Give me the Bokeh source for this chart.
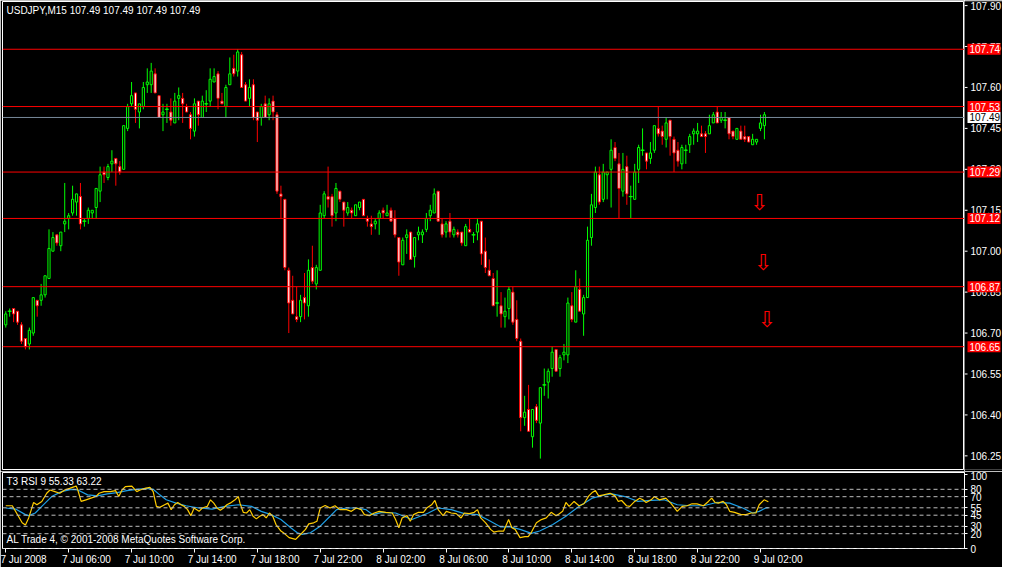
from bokeh.plotting import figure
from bokeh.layouts import column, row
from bokeh.models import (ColumnDataSource, FixedTicker, Label, Span, LinearAxis, Range1d)
from bokeh.core.properties import value
from bokeh.embed import file_html
from bokeh.resources import INLINE

# ---------------- data ----------------
chart_title = "USDJPY,M15  107.49 107.49 107.49 107.49"
indicator_title = "T3 RSI 9 55.33 63.22"
copyright_text = "AL Trade 4, \u00a9 2001-2008 MetaQuotes Software Corp."

opens = [106.73, 106.78, 106.79, 106.78, 106.73, 106.68, 106.66, 106.70, 106.82, 106.82,
         106.84, 106.90, 107.00, 107.06, 107.02, 107.10, 107.12, 107.14, 107.18, 107.20,
         107.11, 107.12, 107.14, 107.16, 107.22, 107.29, 107.27, 107.32, 107.34, 107.31,
         107.30, 107.45, 107.54, 107.58, 107.51, 107.53, 107.61, 107.61, 107.65, 107.57,
         107.50, 107.52, 107.51, 107.47, 107.56, 107.56, 107.53, 107.50, 107.44, 107.55,
         107.49, 107.54, 107.55, 107.62, 107.65, 107.55, 107.53, 107.61, 107.67, 107.66,
         107.72, 107.61, 107.56, 107.61, 107.51, 107.49, 107.54, 107.50, 107.55, 107.50,
         107.21, 107.19, 106.93, 106.82, 106.76, 106.76, 106.83, 106.80, 106.94, 106.88,
         106.93, 107.13, 107.20, 107.20, 107.14, 107.22, 107.18, 107.14, 107.15, 107.13,
         107.16, 107.19, 107.12, 107.10, 107.10, 107.12, 107.15, 107.13, 107.15, 107.12,
         107.05, 106.95, 107.05, 107.07, 106.98, 107.06, 107.06, 107.08, 107.13, 107.14,
         107.22, 107.10, 107.07, 107.11, 107.06, 107.07, 107.07, 107.02, 107.08, 107.06,
         107.07, 107.11, 107.00, 106.93, 106.90, 106.81, 106.80, 106.76, 106.79, 106.85,
         106.75, 106.67, 106.39, 106.42, 106.32, 106.43, 106.37, 106.51, 106.52, 106.57,
         106.64, 106.57, 106.62, 106.62, 106.80, 106.74, 106.86, 106.77, 106.83, 107.05,
         107.16, 107.28, 107.19, 107.28, 107.30, 107.38, 107.32, 107.22, 107.31, 107.20,
         107.19, 107.30, 107.37, 107.36, 107.34, 107.37, 107.45, 107.44, 107.41, 107.48,
         107.41, 107.37, 107.32, 107.37, 107.39, 107.43, 107.43, 107.43, 107.43, 107.43,
         107.47, 107.51, 107.48, 107.48, 107.49, 107.44, 107.41, 107.44, 107.42, 107.42,
         107.39, 107.40, 107.45, 107.46, 107.49]
highs = [106.78, 106.79, 106.79, 106.78, 106.74, 106.68, 106.72, 106.83, 106.82, 106.88,
         106.91, 107.08, 107.07, 107.06, 107.07, 107.25, 107.14, 107.24, 107.21, 107.25,
         107.12, 107.16, 107.15, 107.23, 107.31, 107.31, 107.32, 107.37, 107.34, 107.33,
         107.46, 107.54, 107.62, 107.58, 107.54, 107.62, 107.67, 107.69, 107.67, 107.57,
         107.54, 107.54, 107.56, 107.58, 107.60, 107.58, 107.54, 107.51, 107.56, 107.55,
         107.57, 107.59, 107.67, 107.67, 107.66, 107.58, 107.61, 107.71, 107.72, 107.74,
         107.73, 107.62, 107.63, 107.63, 107.51, 107.54, 107.57, 107.56, 107.57, 107.51,
         107.24, 107.19, 106.94, 106.91, 106.87, 106.84, 106.92, 106.97, 107.02, 106.95,
         107.17, 107.22, 107.31, 107.21, 107.25, 107.22, 107.18, 107.18, 107.16, 107.17,
         107.18, 107.19, 107.13, 107.13, 107.12, 107.15, 107.16, 107.17, 107.16, 107.15,
         107.05, 107.05, 107.08, 107.07, 107.05, 107.09, 107.08, 107.14, 107.17, 107.23,
         107.22, 107.12, 107.11, 107.14, 107.09, 107.08, 107.07, 107.10, 107.12, 107.07,
         107.12, 107.11, 107.05, 106.97, 106.92, 106.93, 106.85, 106.83, 106.87, 106.87,
         106.82, 106.68, 106.47, 106.51, 106.42, 106.44, 106.50, 106.57, 106.57, 106.65,
         106.64, 106.62, 106.66, 106.83, 106.85, 106.93, 106.90, 106.84, 107.09, 107.21,
         107.31, 107.31, 107.32, 107.29, 107.41, 107.40, 107.36, 107.36, 107.35, 107.24,
         107.32, 107.39, 107.45, 107.36, 107.40, 107.46, 107.53, 107.46, 107.49, 107.48,
         107.42, 107.40, 107.39, 107.39, 107.43, 107.45, 107.47, 107.46, 107.44, 107.50,
         107.51, 107.53, 107.51, 107.51, 107.49, 107.44, 107.45, 107.46, 107.46, 107.42,
         107.43, 107.41, 107.50, 107.51, 107.49]
lows = [106.72, 106.76, 106.74, 106.73, 106.66, 106.64, 106.64, 106.69, 106.76, 106.80,
        106.83, 106.90, 107.00, 107.02, 107.00, 107.07, 107.08, 107.13, 107.13, 107.08,
        107.09, 107.10, 107.12, 107.12, 107.18, 107.25, 107.26, 107.29, 107.24, 107.28,
        107.30, 107.44, 107.53, 107.47, 107.45, 107.52, 107.58, 107.58, 107.58, 107.49,
        107.44, 107.47, 107.46, 107.47, 107.48, 107.47, 107.51, 107.41, 107.42, 107.46,
        107.49, 107.51, 107.53, 107.62, 107.52, 107.54, 107.49, 107.61, 107.64, 107.64,
        107.60, 107.55, 107.53, 107.48, 107.40, 107.46, 107.49, 107.48, 107.48, 107.21,
        107.12, 106.93, 106.70, 106.77, 106.74, 106.74, 106.75, 106.76, 106.88, 106.86,
        106.93, 107.12, 107.16, 107.09, 107.11, 107.18, 107.09, 107.13, 107.12, 107.13,
        107.15, 107.13, 107.09, 107.06, 107.08, 107.06, 107.12, 107.13, 107.11, 107.05,
        106.91, 106.95, 106.99, 106.97, 106.94, 107.04, 107.03, 107.07, 107.11, 107.14,
        107.11, 107.05, 107.05, 107.05, 107.05, 107.05, 107.02, 107.02, 107.07, 107.03,
        107.04, 106.95, 106.92, 106.91, 106.80, 106.76, 106.72, 106.72, 106.75, 106.73,
        106.67, 106.34, 106.36, 106.34, 106.28, 106.37, 106.24, 106.47, 106.46, 106.54,
        106.56, 106.54, 106.60, 106.59, 106.74, 106.74, 106.78, 106.69, 106.83, 107.02,
        107.14, 107.17, 107.18, 107.19, 107.16, 107.33, 107.12, 107.20, 107.17, 107.12,
        107.19, 107.25, 107.35, 107.30, 107.32, 107.36, 107.42, 107.39, 107.38, 107.35,
        107.29, 107.31, 107.30, 107.32, 107.36, 107.39, 107.40, 107.42, 107.36, 107.43,
        107.47, 107.47, 107.47, 107.45, 107.41, 107.41, 107.41, 107.41, 107.40, 107.40,
        107.39, 107.39, 107.44, 107.41, 107.49]
closes = [106.77, 106.78, 106.77, 106.74, 106.67, 106.65, 106.71, 106.83, 106.80, 106.84,
          106.91, 107.01, 107.05, 107.03, 107.07, 107.11, 107.13, 107.19, 107.21, 107.10,
          107.11, 107.15, 107.15, 107.23, 107.28, 107.28, 107.31, 107.33, 107.32, 107.29,
          107.46, 107.53, 107.57, 107.52, 107.54, 107.60, 107.62, 107.66, 107.58, 107.49,
          107.51, 107.52, 107.48, 107.55, 107.57, 107.54, 107.51, 107.45, 107.54, 107.50,
          107.55, 107.54, 107.63, 107.64, 107.56, 107.54, 107.60, 107.65, 107.65, 107.73,
          107.60, 107.55, 107.60, 107.49, 107.48, 107.53, 107.49, 107.54, 107.51, 107.22,
          107.20, 106.94, 106.81, 106.77, 106.75, 106.82, 106.81, 106.93, 106.89, 106.94,
          107.14, 107.21, 107.19, 107.13, 107.23, 107.19, 107.15, 107.16, 107.14, 107.17,
          107.18, 107.13, 107.11, 107.09, 107.11, 107.14, 107.14, 107.14, 107.11, 107.06,
          106.96, 107.04, 107.06, 106.97, 107.05, 107.07, 107.07, 107.12, 107.15, 107.21,
          107.11, 107.06, 107.10, 107.07, 107.08, 107.06, 107.03, 107.09, 107.07, 107.06,
          107.10, 106.99, 106.94, 106.91, 106.80, 106.81, 106.77, 106.78, 106.86, 106.74,
          106.68, 106.39, 106.41, 106.34, 106.42, 106.38, 106.50, 106.51, 106.56, 106.63,
          106.56, 106.61, 106.63, 106.81, 106.75, 106.87, 106.78, 106.83, 107.04, 107.17,
          107.29, 107.18, 107.29, 107.29, 107.37, 107.34, 107.23, 107.30, 107.21, 107.20,
          107.29, 107.38, 107.37, 107.33, 107.36, 107.46, 107.43, 107.42, 107.47, 107.42,
          107.36, 107.33, 107.38, 107.37, 107.42, 107.44, 107.44, 107.42, 107.42, 107.46,
          107.50, 107.47, 107.49, 107.48, 107.43, 107.42, 107.45, 107.41, 107.41, 107.40,
          107.41, 107.41, 107.47, 107.50, 107.49]

time_label_bars = [0, 16, 32, 48, 64, 80, 96, 112, 128, 144, 160, 176, 192]
time_labels = ["7 Jul 2008", "7 Jul 06:00", "7 Jul 10:00", "7 Jul 14:00", "7 Jul 18:00",
               "7 Jul 22:00", "8 Jul 02:00", "8 Jul 06:00", "8 Jul 10:00", "8 Jul 14:00",
               "8 Jul 18:00", "8 Jul 22:00", "9 Jul 02:00"]

price_ticks = [106.25, 106.40, 106.55, 106.70, 106.85, 107.00, 107.15, 107.30,
               107.45, 107.60, 107.75, 107.90]
level_prices = [107.74, 107.53, 107.29, 107.12, 106.87, 106.65]
bid_price = 107.49

arrow_bars = [191.7, 192.6, 193.6]
arrow_prices = [107.18, 106.96, 106.75]

rsi_ticks = [0, 20, 30, 45, 55, 70, 80, 100]
rsi_levels = [80, 70, 55, 45, 30, 20, 0]

rsi_x = [0, 1.67, 4.17, 5, 5.83, 7.08, 7.92, 9.17, 10.42, 11.25, 12.5, 13.75, 15, 16.25,
         17.5, 17.92, 18.33, 19.17, 20.42, 21.67, 22.92, 23.75, 25, 26.67, 27.92, 28.75,
         29.58, 30.42, 32.08, 33.33, 34.17, 35.42, 36.67, 37.5, 38.33, 39.17, 40.42, 41.25,
         42.08, 42.92, 43.75, 44.58, 45.42, 46.25, 47.08, 47.92, 49.17, 50, 51.25, 52.08,
         52.92, 53.75, 54.58, 55.42, 56.25, 57.08, 58.33, 59.17, 59.58, 60.42, 61.25, 62.08,
         62.92, 63.75, 64.58, 65.42, 66.25, 67.08, 67.92, 68.75, 70, 70.83, 72.08, 73.75,
         74.58, 75.42, 76.25, 77.08, 78.33, 79.17, 80, 81.25, 82.5, 83.75, 85, 86.67, 87.92,
         89.17, 90.42, 91.25, 92.5, 93.75, 95, 96.67, 98.33, 99.17, 100, 100.83, 102.08,
         102.92, 103.75, 105, 106.25, 107.08, 108.33, 109.17, 110, 111.25, 112.08, 113.33,
         114.58, 115.83, 116.67, 117.92, 119.17, 120, 120.83, 122.08, 123.33, 124.17, 125.42,
         126.67, 127.92, 128.75, 129.58, 130.83, 132.08, 132.92, 133.75, 135, 136.25, 137.5,
         138.75, 140, 140.83, 141.67, 142.5, 143.33, 144.58, 145.83, 147.08, 148.33, 149.17,
         150, 150.83, 152.08, 153.75, 155, 155.83, 156.67, 157.92, 158.75, 160, 161.25,
         162.08, 162.92, 164.17, 165, 166.25, 167.92, 169.17, 170.83, 172.08, 173.33, 174.58,
         175.83, 177.5, 178.75, 179.58, 180.42, 181.25, 182.5, 183.33, 184.17, 185.42,
         187.08, 188.33, 189.58, 190.83, 191.67, 192.92, 194]
rsi_vals = [57.8, 57.8, 34.7, 31.6, 41.3, 62.2, 59.1, 63.6, 74.7, 79.1, 76.9, 74.7, 79.1, 81.3,
            83.6, 84.4, 79.1, 63.6, 65.8, 68.0, 70.2, 74.7, 76.9, 76.9, 78.2, 70.2,
            79.1, 83.6, 84.4, 76.9, 79.1, 81.3, 82.7, 76.9, 56.9, 55.6, 59.1, 61.3,
            52.5, 59.1, 62.2, 59.1, 56.9, 52.5, 44.4, 54.7, 50.2, 54.7, 56.9, 65.8,
            61.3, 54.7, 51.6, 54.7, 59.1, 61.3, 65.8, 70.2, 61.3, 48.9, 48.0, 52.5,
            43.6, 40.0, 43.6, 45.8, 41.3, 48.0, 43.6, 32.4, 23.6, 20.5, 14.7, 12.4,
            16.9, 21.3, 25.8, 33.3, 34.7, 36.9, 54.7, 58.2, 54.7, 57.8, 52.5, 52.5, 50.2,
            54.7, 52.5, 45.8, 44.4, 48.0, 50.2, 48.9, 48.0, 39.1, 28.0, 41.3, 44.4,
            36.9, 45.8, 48.9, 48.9, 54.7, 59.1, 64.9, 52.5, 44.4, 50.2, 48.0,
            47.1, 41.3, 48.0, 47.1, 48.9, 52.5, 41.3, 34.7, 25.8, 22.2, 23.6,
            23.6, 39.1, 28.0, 25.8, 14.7, 16.0, 16.0, 22.2, 34.7, 39.1, 41.3,
            48.9, 44.4, 47.1, 50.2, 62.2, 56.9, 63.6, 57.8, 60.4, 71.1, 75.6,
            78.2, 71.1, 72.5, 74.7, 71.1, 63.6, 64.9, 57.8, 56.9, 63.6, 68.0,
            65.8, 62.2, 65.8, 70.2, 65.8, 68.0, 61.3, 50.2, 56.9, 57.8, 60.4,
            60.4, 57.8, 63.6, 68.0, 62.2, 61.3, 63.6, 59.1, 50.2, 48.9,
            45.8, 45.8, 48.0, 48.0, 59.1, 65.8, 63.22]

signal_x = [0, 2.5, 5, 5.83, 7.5, 9.17, 11.67, 14.17, 16.67, 18.33, 20.83, 23.33, 25.83,
            28.33, 30.83, 33.33, 35.83, 37.5, 39.17, 40.83, 43.33, 45.83, 49.17, 52.5,
            55.83, 59.17, 62.5, 65, 67.5, 70, 72.5, 74.17, 75.42, 77.5, 80, 82.5, 84.17,
            86.67, 89.17, 91.67, 93.33, 95.83, 99.17, 103.33, 107.5, 110, 113.33, 116.67,
            120, 122.5, 125.83, 128.33, 130.83, 133.75, 135.83, 139.17, 142.5, 145.83,
            149.17, 152.5, 154.17, 157.5, 160.83, 164.17, 167.5, 170.83, 174.17, 177.5,
            180.83, 184.17, 187.5, 190, 191.67, 193.33, 194]
signal_vals = [54.7, 53.3, 45.8, 44.4, 48.0, 56.9, 70.2, 76.9, 80.0, 79.1, 72.5, 71.1, 73.8,
               75.6, 78.2, 80.0, 81.3, 80.0, 72.5, 65.8, 61.3, 57.8, 54.7, 53.3,
               56.9, 59.1, 56.9, 50.2, 45.8, 39.1, 28.0, 21.3, 19.1, 21.3, 30.2, 43.6, 52.5,
               54.7, 54.7, 52.5, 45.8, 48.9, 48.0, 39.1, 48.0, 54.7, 52.5, 47.1,
               45.8, 39.1, 29.3, 29.3, 25.8, 20.5, 23.6, 32.4, 43.6, 56.9,
               68.0, 72.5, 73.8, 70.2, 63.6, 64.9, 65.8, 59.1, 57.8, 57.8,
               62.2, 61.3, 54.7, 48.0, 50.2, 54.7, 55.33]

# ---------------- styling ----------------
FONT = "Liberation Sans"
FS = "10px"
BULL = "#00FF00"
BEAR = "#FF0000"
FRAME_W = 962
AXIS_W = 38
MAIN_H = 468

bars = list(range(len(opens)))
colors = [BULL if c >= o else BEAR for o, c in zip(opens, closes)]
fills = ["black" if c >= o else "white" for o, c in zip(opens, closes)]
tops = [max(o, c) for o, c in zip(opens, closes)]
bottoms = [min(o, c) for o, c in zip(opens, closes)]
src = ColumnDataSource(dict(x=bars, o=opens, h=highs, l=lows, c=closes,
                            top=tops, bottom=bottoms, color=colors, fill=fills))
doji_x = [b for b, o, c in zip(bars, opens, closes) if o == c]
doji_y = [o for o, c in zip(opens, closes) if o == c]

x_range = Range1d(-0.83, 243.9)
price_range = Range1d(106.20, 107.915)

p = figure(frame_width=FRAME_W, frame_height=MAIN_H, min_border_left=2, min_border_right=0,
           min_border_top=1, min_border_bottom=2,
           x_range=x_range, y_range=price_range,
           output_backend="svg", toolbar_location=None,
           x_axis_location=None, y_axis_location=None,
           background_fill_color="black", border_fill_color="black",
           outline_line_color="white")
p.grid.visible = False

p.segment(x0="x", y0="l", x1="x", y1="h", line_color="color", line_width=1, source=src)
p.vbar(x="x", top="top", bottom="bottom", width=0.55, fill_color="fill",
       line_color="color", line_width=1, source=src)
p.scatter(doji_x, doji_y, marker="dash", size=4, line_color=BULL, line_width=1)

for lp in level_prices:
    p.add_layout(Span(location=lp, dimension="width", line_color="#FF0000", line_width=1))
p.add_layout(Span(location=bid_price, dimension="width", line_color="#778899", line_width=1))

p.text(x=arrow_bars, y=arrow_prices, text=["\u21e9"] * len(arrow_bars),
       text_color="#FF0000", text_font=value("DejaVu Sans"), text_font_size="22px",
       text_align="center", text_baseline="middle")

p.add_layout(Label(x=4, y=MAIN_H - 3, x_units="screen", y_units="screen", text=chart_title,
                   text_color="white", text_font=FONT, text_font_size=FS,
                   text_baseline="top"))

# ---------------- price scale column (right) ----------------
s = figure(frame_width=AXIS_W, frame_height=MAIN_H, min_border_left=0, min_border_right=0,
           min_border_top=1, min_border_bottom=2,
           x_range=Range1d(0, AXIS_W), y_range=price_range,
           output_backend="svg", toolbar_location=None,
           x_axis_location=None, y_axis_location=None,
           background_fill_color="black", border_fill_color="black",
           outline_line_color=None)
s.grid.visible = False
s.segment(x0=[0] * len(price_ticks), x1=[3] * len(price_ticks), y0=price_ticks,
          y1=price_ticks, line_color="white", line_width=1)
s.text(x=[6] * len(price_ticks), y=price_ticks, text=[f"{t:.2f}" for t in price_ticks],
       text_color="white", text_font=value(FONT), text_font_size=FS,
       text_baseline="middle", text_align="left")
s.rect(x=[19.5] * len(level_prices), y=level_prices, width=33, height=11,
       height_units="screen", fill_color="#FF0000", line_color=None)
s.text(x=[5] * len(level_prices), y=level_prices, text=[f"{lp:.2f}" for lp in level_prices],
       text_color="white", text_font=value(FONT), text_font_size=FS,
       text_baseline="middle", text_align="left")
s.rect(x=[19.5], y=[bid_price], width=33, height=11, height_units="screen",
       fill_color="white", line_color=None)
s.text(x=[5], y=[bid_price], text=[f"{bid_price:.2f}"], text_color="black",
       text_font=value(FONT), text_font_size=FS, text_baseline="middle", text_align="left")

# ---------------- indicator panel ----------------
r = figure(frame_width=FRAME_W, frame_height=76, min_border_left=2, min_border_right=AXIS_W,
           min_border_top=1, min_border_bottom=0,
           x_range=x_range, y_range=Range1d(0, 102.7),
           output_backend="svg", toolbar_location=None,
           x_axis_location=None, y_axis_location="right",
           background_fill_color="black", border_fill_color="black",
           outline_line_color="white")
r.grid.visible = False

ra = r.yaxis[0]
ra.ticker = FixedTicker(ticks=rsi_ticks)
ra.axis_line_color = "white"
ra.major_tick_line_color = "white"
ra.major_tick_out = 3
ra.major_tick_in = 0
ra.minor_tick_line_color = None
ra.major_label_text_color = "white"
ra.major_label_text_font = FONT
ra.major_label_text_font_size = FS
ra.major_label_standoff = 3

for lv in rsi_levels:
    r.add_layout(Span(location=lv, dimension="width", line_color="#BEBEBE",
                      line_width=1, line_dash="4 3"))

r.line(signal_x, signal_vals, line_color="#1E9FE6", line_width=1.2)
r.line(rsi_x, rsi_vals, line_color="#FFCC00", line_width=1.2)

r.add_layout(Label(x=4, y=73, x_units="screen", y_units="screen", text=indicator_title,
                   text_color="white", text_font=FONT, text_font_size=FS,
                   text_baseline="top"))
r.add_layout(Label(x=4, y=4, x_units="screen", y_units="screen", text=copyright_text,
                   text_color="white", text_font=FONT, text_font_size=FS,
                   text_baseline="bottom"))

label_pos = [b + 4.5 for b in time_label_bars]
time_axis = LinearAxis(ticker=FixedTicker(ticks=label_pos, minor_ticks=time_label_bars),
                       major_label_overrides={pos: t for pos, t in zip(label_pos, time_labels)},
                       axis_line_color=None, major_tick_line_color=None,
                       major_tick_out=4, major_tick_in=0,
                       minor_tick_line_color="white", minor_tick_out=4, minor_tick_in=0,
                       major_label_text_color="white",
                       major_label_text_font=FONT, major_label_text_font_size=FS,
                       major_label_standoff=1)
r.add_layout(time_axis, "below")

layout = column(row(p, s, spacing=0), r, spacing=0)

open("out.html", "w").write(file_html(layout, INLINE))
